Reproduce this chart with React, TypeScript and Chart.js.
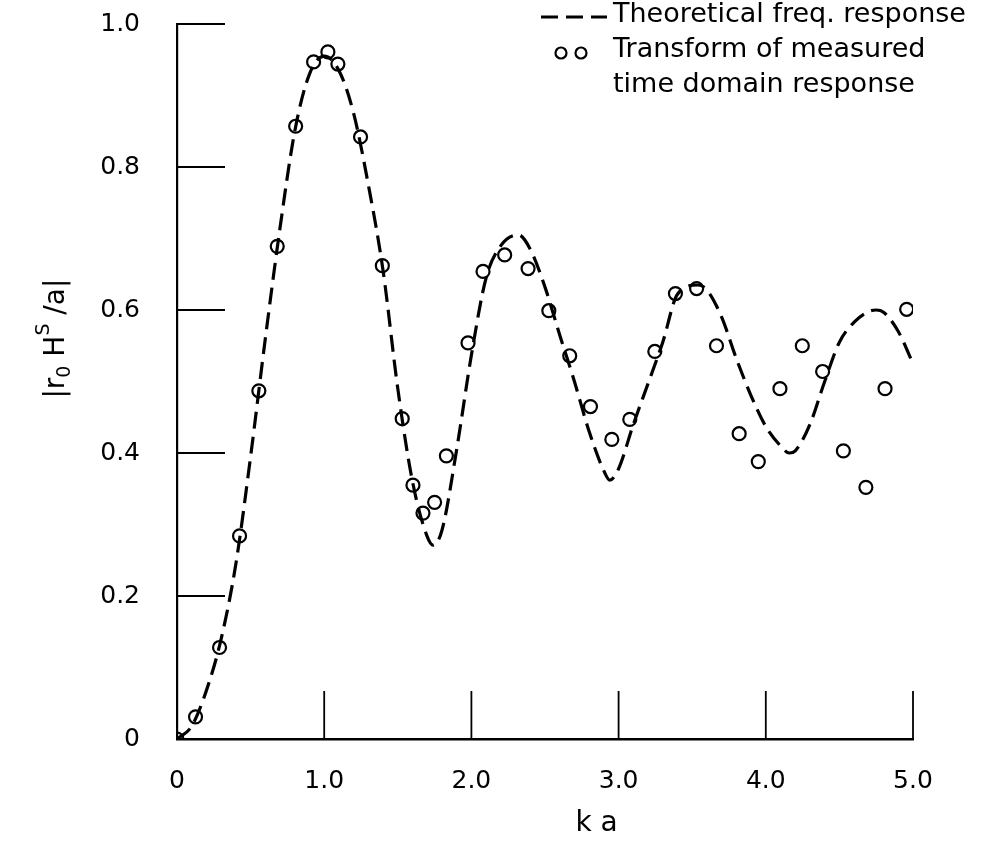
import React, { useEffect, useRef } from "react";
import { Chart, registerables } from "chart.js";

Chart.register(...registerables);

// ---- data ----
const theoryKa = [
  0, 0.1, 0.2, 0.3, 0.4, 0.5, 0.6, 0.7, 0.8, 0.9, 1.0, 1.1, 1.2, 1.3, 1.4, 1.5, 1.6, 1.7, 1.74,
  1.8, 1.9, 2.0, 2.1, 2.2, 2.32, 2.4, 2.5, 2.6, 2.7, 2.8, 2.9, 2.94, 3.0, 3.1, 3.2, 3.3, 3.4,
  3.54, 3.6, 3.7, 3.8, 3.9, 4.0, 4.1, 4.16, 4.2, 4.3, 4.4, 4.5, 4.6, 4.7, 4.75, 4.8, 4.9, 5.0,
];
const theoryMag = [
  0.0, 0.018, 0.068, 0.14, 0.245, 0.395, 0.56, 0.715, 0.85, 0.93, 0.955, 0.935, 0.875, 0.775,
  0.655, 0.49, 0.36, 0.283, 0.271, 0.292, 0.405, 0.537, 0.645, 0.69, 0.705, 0.685, 0.632, 0.565,
  0.5, 0.43, 0.375, 0.362, 0.378, 0.44, 0.497, 0.555, 0.622, 0.635, 0.628, 0.59, 0.532, 0.48,
  0.437, 0.41, 0.4, 0.403, 0.44, 0.5, 0.555, 0.583, 0.598, 0.6, 0.597, 0.57, 0.525,
];

const measuredKa = [
  0.0, 0.126, 0.289, 0.425, 0.556, 0.681, 0.806, 0.928, 1.025, 1.093, 1.247, 1.395, 1.53, 1.603,
  1.671, 1.75, 1.83, 1.977, 2.079, 2.226, 2.385, 2.526, 2.668, 2.809, 2.954, 3.076, 3.246, 3.386,
  3.53, 3.665, 3.819, 3.949, 4.096, 4.248, 4.386, 4.527, 4.68, 4.81, 4.957,
];
const measuredMag = [
  0.0, 0.031, 0.128, 0.284, 0.487, 0.689, 0.857, 0.947, 0.961, 0.944, 0.842, 0.662, 0.448, 0.355,
  0.316, 0.331, 0.396, 0.554, 0.654, 0.677, 0.658, 0.599, 0.536, 0.465, 0.419, 0.447, 0.542, 0.623,
  0.63, 0.55, 0.427, 0.388, 0.49, 0.55, 0.514, 0.403, 0.352, 0.49, 0.601,
];

const xTickValues = [0, 1, 2, 3, 4, 5];
const xTickLabels = ["0", "1.0", "2.0", "3.0", "4.0", "5.0"];
const yTickValues = [0, 0.2, 0.4, 0.6, 0.8, 1.0];
const yTickLabels = ["0", "0.2", "0.4", "0.6", "0.8", "1.0"];

const legendTheory = "Theoretical freq. response";
const legendMeasured = ["Transform of measured", "time domain response"];
const xTitle = "k a";
// y title pieces: [text, role]
const yTitleParts: [string, string][] = [
  ["|", "main"],
  ["r", "main"],
  ["0", "sub"],
  [" H", "main"],
  ["S", "sup"],
  [" /a", "main"],
  ["|", "main"],
];

const INK = "#000000";
const FONT_FAMILY = "'DejaVu Sans', 'Open Sans', sans-serif";
const FONT_WEIGHT = "400";

const decorPlugin = {
  id: "decor",
  afterDatasetsDraw(chart: any) {
    const { ctx, chartArea, scales } = chart;
    const x = scales.x;
    const y = scales.y;
    ctx.save();
    ctx.strokeStyle = INK;
    ctx.lineWidth = 1.8;
    ctx.lineCap = "butt";
    const tickLen = 48;
    yTickValues.forEach((v) => {
      if (v === 0) return;
      const py = y.getPixelForValue(v);
      ctx.beginPath();
      ctx.moveTo(chartArea.left, py);
      ctx.lineTo(chartArea.left + tickLen, py);
      ctx.stroke();
    });
    xTickValues.forEach((v) => {
      if (v === 0) return;
      const px = x.getPixelForValue(v);
      ctx.beginPath();
      ctx.moveTo(px, chartArea.bottom);
      ctx.lineTo(px, chartArea.bottom - tickLen);
      ctx.stroke();
    });
    ctx.restore();
  },
  afterDraw(chart: any) {
    const { ctx, scales } = chart;
    const x = scales.x;
    const y = scales.y;
    const ds0 = chart.data.datasets[0];
    const ds1 = chart.data.datasets[1];
    ctx.save();
    ctx.fillStyle = INK;

    // legend (top right)
    const legLeft = 613;
    ctx.font = `${FONT_WEIGHT} 27px ${FONT_FAMILY}`;
    ctx.textBaseline = "middle";
    ctx.textAlign = "left";
    ctx.fillText(legendTheory, legLeft, 15);
    ctx.fillText(legendMeasured[0], legLeft, 50);
    ctx.fillText(legendMeasured[1], legLeft, 85);

    ctx.strokeStyle = ds0.borderColor;
    ctx.lineWidth = ds0.borderWidth;
    ctx.setLineDash(ds0.borderDash);
    ctx.beginPath();
    ctx.moveTo(541, 17);
    ctx.lineTo(607, 17);
    ctx.stroke();
    ctx.setLineDash([]);

    ctx.strokeStyle = ds1.pointBorderColor;
    ctx.lineWidth = ds1.pointBorderWidth;
    [561, 581].forEach((cx) => {
      ctx.beginPath();
      ctx.arc(cx, 53, 5.5, 0, Math.PI * 2);
      ctx.stroke();
    });

    // x title
    ctx.font = `${FONT_WEIGHT} 28px ${FONT_FAMILY}`;
    ctx.textAlign = "center";
    ctx.textBaseline = "alphabetic";
    ctx.fillText(xTitle, x.getPixelForValue(2.85), 831);

    // y title (rotated)
    const mainFont = `${FONT_WEIGHT} 28px ${FONT_FAMILY}`;
    const smallFont = `${FONT_WEIGHT} 19px ${FONT_FAMILY}`;
    const widths = yTitleParts.map(([t, role]) => {
      ctx.font = role === "main" ? mainFont : smallFont;
      return ctx.measureText(t).width;
    });
    const total = widths.reduce((a, b) => a + b, 0);
    ctx.translate(64, y.getPixelForValue(0.56));
    ctx.rotate(-Math.PI / 2);
    ctx.textAlign = "left";
    ctx.textBaseline = "alphabetic";
    let cx = -total / 2;
    yTitleParts.forEach(([t, role], i) => {
      ctx.font = role === "main" ? mainFont : smallFont;
      const dy = role === "sub" ? 6 : role === "sup" ? -15 : 0;
      ctx.fillText(t, cx, dy);
      cx += widths[i];
    });
    ctx.restore();
  },
};

export default function App() {
  const canvasRef = useRef<HTMLCanvasElement | null>(null);

  useEffect(() => {
    const canvas = canvasRef.current;
    if (!canvas) return;
    const theoryPoints = theoryKa.map((k, i) => ({ x: k, y: theoryMag[i] }));
    const measuredPoints = measuredKa.map((k, i) => ({ x: k, y: measuredMag[i] }));

    const chart = new Chart(canvas, {
      type: "scatter",
      data: {
        datasets: [
          {
            label: "Theoretical freq. response",
            data: theoryPoints,
            showLine: true,
            borderColor: INK,
            borderWidth: 3.2,
            borderDash: [17, 8],
            pointRadius: 0,
            cubicInterpolationMode: "monotone",
            fill: false,
          },
          {
            label: "Transform of measured time domain response",
            data: measuredPoints,
            showLine: false,
            pointRadius: 6.5,
            pointBorderWidth: 2.2,
            pointBorderColor: INK,
            pointBackgroundColor: "rgba(0,0,0,0)",
          },
        ],
      },
      options: {
        responsive: false,
        animation: false,
        devicePixelRatio: 1,
        layout: { padding: { top: 24, right: 75, left: 0, bottom: 0 } },
        plugins: {
          legend: { display: false },
          tooltip: { enabled: false },
          title: { display: false },
        },
        scales: {
          x: {
            type: "linear",
            min: 0,
            max: 5,
            afterBuildTicks: (s: any) => {
              s.ticks = xTickValues.map((v) => ({ value: v }));
            },
            afterFit: (s: any) => {
              s.height = 106;
              s.paddingLeft = 0;
              s.paddingRight = 0;
            },
            grid: { display: false, drawTicks: false },
            border: { display: true, color: INK, width: 2.6 },
            ticks: {
              padding: 27,
              color: INK,
              font: { family: FONT_FAMILY, size: 25, weight: FONT_WEIGHT },
              maxRotation: 0,
              callback: (v: any) => {
                const i = xTickValues.indexOf(Number(v));
                return i >= 0 ? xTickLabels[i] : "";
              },
            },
          },
          y: {
            type: "linear",
            min: 0,
            max: 1,
            afterBuildTicks: (s: any) => {
              s.ticks = yTickValues.map((v) => ({ value: v }));
            },
            afterFit: (s: any) => {
              s.width = 177;
              s.paddingTop = 0;
              s.paddingBottom = 0;
            },
            grid: { display: false, drawTicks: false },
            border: { display: true, color: INK, width: 2.2 },
            ticks: {
              padding: 37,
              color: INK,
              font: { family: FONT_FAMILY, size: 25, weight: FONT_WEIGHT },
              callback: (v: any) => {
                const i = yTickValues.findIndex((t) => Math.abs(t - Number(v)) < 1e-6);
                return i >= 0 ? yTickLabels[i] : "";
              },
            },
          },
        },
      },
      plugins: [decorPlugin],
    });
    return () => chart.destroy();
  }, []);

  return (
    <div
      style={{
        position: "fixed",
        left: 0,
        top: 0,
        width: 988,
        height: 845,
        background: "#ffffff",
      }}
    >
      <canvas ref={canvasRef} width={988} height={845} style={{ display: "block" }} />
    </div>
  );
}
